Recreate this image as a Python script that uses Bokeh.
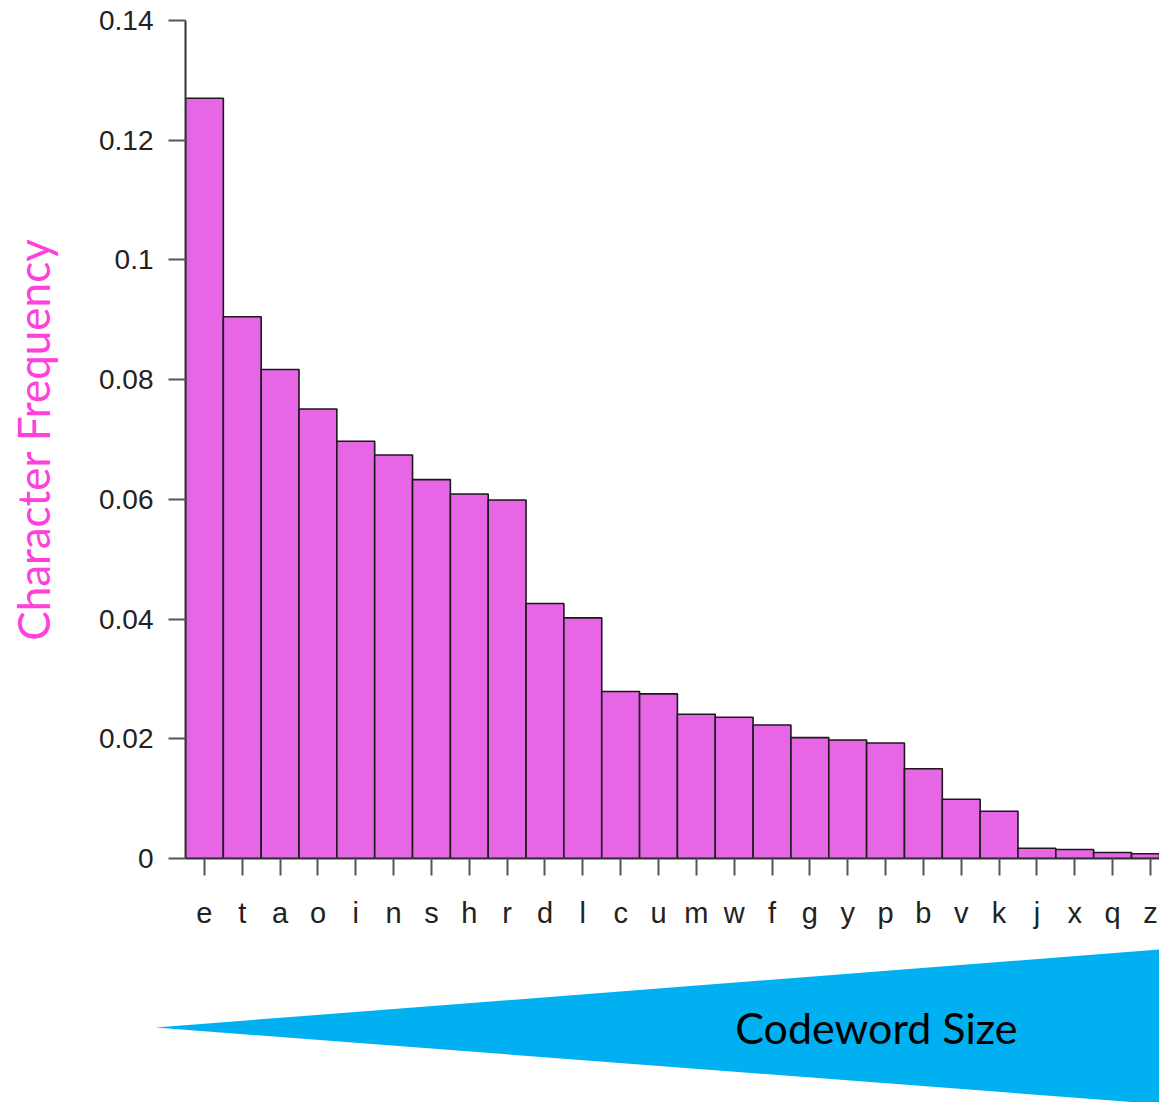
import numpy as np
from bokeh.plotting import figure
from bokeh.models import Range1d, FixedTicker
from bokeh.layouts import column
from bokeh.embed import file_html
from bokeh.resources import INLINE
from bokeh.core.properties import value

# ---- data ----
letters = ["e", "t", "a", "o", "i", "n", "s", "h", "r", "d", "l", "c", "u",
           "m", "w", "f", "g", "y", "p", "b", "v", "k", "j", "x", "q", "z"]
freqs = [0.1270, 0.0905, 0.0817, 0.0751, 0.0697, 0.0674, 0.0633, 0.0609,
         0.0599, 0.0426, 0.0402, 0.0279, 0.0275, 0.0241, 0.0236, 0.0223,
         0.0202, 0.0198, 0.0193, 0.0150, 0.0099, 0.0079, 0.0017, 0.0015,
         0.0010, 0.0008]
y_ticks = [0, 0.02, 0.04, 0.06, 0.08, 0.10, 0.12, 0.14]
y_tick_labels = ["0", "0.02", "0.04", "0.06", "0.08", "0.1", "0.12", "0.14"]
y_title = "Character Frequency"
arrow_label = "Codeword Size"
# wedge shape (fractions of the lower panel)
wedge_x = [0.1337, 1.0, 1.0]
wedge_y = [0.463, 0.944, -0.01]

centers = (np.arange(len(letters)) + 0.5).tolist()

BAR_FILL = "#E766E6"
TITLE_COLOR = "#FF40DC"
WEDGE_COLOR = "#00B0F0"

p = figure(width=1159, height=940, output_backend="svg", toolbar_location=None,
           x_range=Range1d(0, 25.74), y_range=Range1d(0, 0.14),
           min_border_left=185, min_border_right=0, min_border_top=20,
           min_border_bottom=82)
p.outline_line_color = None
p.grid.visible = False
p.background_fill_color = "white"
p.frame_align = False

p.vbar(x=centers, top=freqs, bottom=0, width=1.0,
       fill_color=BAR_FILL, line_color="#1a1a1a", line_width=1.6)

# x axis
xa = p.xaxis[0]
xa.ticker = FixedTicker(ticks=centers)
xa.major_label_overrides = {c: l for c, l in zip(centers, letters)}
xa.minor_tick_line_color = None
xa.major_tick_in = 0
xa.major_tick_out = 17
xa.major_tick_line_color = "#555555"
xa.major_tick_line_width = 2
xa.axis_line_color = "#333333"
xa.axis_line_width = 2
xa.major_label_text_font = "Liberation Sans"
xa.major_label_text_font_size = "29px"
xa.major_label_text_color = "#222222"
xa.major_label_standoff = 21

# y axis
ya = p.yaxis[0]
ya.ticker = FixedTicker(ticks=y_ticks)
ya.major_label_overrides = {t: l for t, l in zip(y_ticks, y_tick_labels)}
ya.bounds = (0, 0.14)
ya.minor_tick_line_color = None
ya.major_tick_in = 0
ya.major_tick_out = 17
ya.major_tick_line_color = "#555555"
ya.major_tick_line_width = 2
ya.axis_line_color = "#333333"
ya.axis_line_width = 2
ya.major_label_text_font = "Liberation Sans"
ya.major_label_text_font_size = "28px"
ya.major_label_text_color = "#222222"
ya.major_label_standoff = 15
ya.axis_label = y_title
ya.axis_label_text_font = "Lato"
ya.axis_label_text_font_style = "normal"
ya.axis_label_text_font_size = "44px"
ya.axis_label_text_color = TITLE_COLOR
ya.axis_label_standoff = 37

# lower panel with the wedge
q = figure(width=1159, height=162, output_backend="svg", toolbar_location=None,
           x_range=Range1d(0, 1), y_range=Range1d(0, 1),
           x_axis_location=None, y_axis_location=None,
           min_border_left=0, min_border_right=0, min_border_top=0,
           min_border_bottom=0)
q.outline_line_color = None
q.grid.visible = False
q.frame_align = False
q.patch(x=wedge_x, y=wedge_y, fill_color=WEDGE_COLOR, line_color=None)
q.text(x=[0.634], y=[0.465], text=[arrow_label], text_font=value("Lato"),
       text_font_size="43px", text_color="black", text_align="left",
       text_baseline="middle")

layout = column(p, q, spacing=0)
open("out.html", "w").write(file_html(layout, INLINE))
